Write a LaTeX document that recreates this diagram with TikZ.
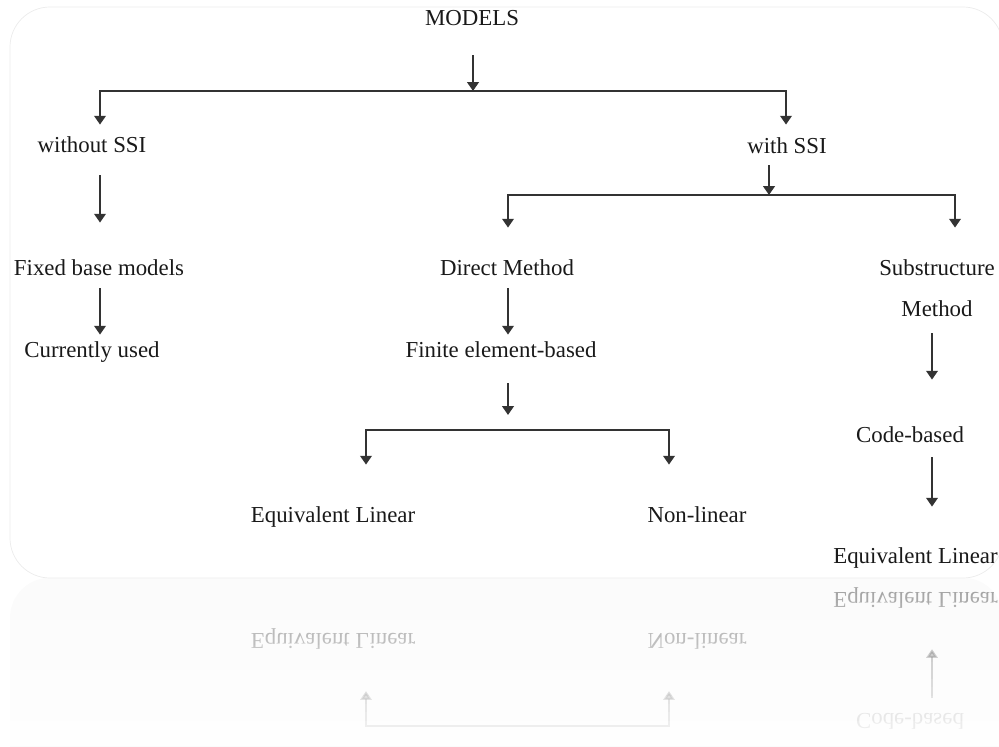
\documentclass[tikz,border=0pt]{standalone}
\usepackage{fontspec}
\setmainfont{Liberation Serif}
\usetikzlibrary{arrows.meta,positioning}

% lower end of the tree, drawn on the card and again as its mirror image
\newcommand{\lowertree}{%
    \node[lbl] (eqlin) at (333,517) {Equivalent Linear};
    \node[lbl] (nonlin) at (697,517) {Non-linear};
    \node[lbl] (code) at (910,437) {Code-based};
    \node[lbl, anchor=west] (eqlin2) at (833,558) {Equivalent Linear};
    \coordinate (b3l) at (366,430);
    \coordinate (b3r) at (669,430);
    \coordinate (subx) at (932,0);
    \draw[fork, shorten <=0.83cm, shorten >=0.83cm] (eqlin.north -| b3l) -- (b3l) -- (b3r) -- (nonlin.north -| b3r);
    \draw[arrow, shorten <=0.19cm, shorten >=0.81cm] (code.south -| subx) -- (eqlin2.north -| subx);
}

\begin{document}
\begin{tikzpicture}[
    x=0.02cm, y=-0.02cm,
    lbl/.style={font=\fontsize{13}{15}\selectfont, text=black!90, text height=9pt, text depth=3pt, inner sep=0pt},
    arrow/.style={-{Triangle[length=5pt,width=6.5pt]}, line width=1.4pt, draw=black!80},
    fork/.style={{Triangle[length=5pt,width=6.5pt]}-{Triangle[length=5pt,width=6.5pt]}, line width=1.4pt, draw=black!80},
    card/.style={rounded corners=0.8cm}
]
    \useasboundingbox (0,0) rectangle (999,746);

    \begin{scope}
        \clip[card] (10,7) rectangle (1003,578);
        \lowertree

        % Nodes
        \node[lbl] (models) at (472,20) {MODELS};
        \node[lbl] (woSSI) at (92,147) {without SSI};
        \node[lbl] (wSSI) at (787,148) {with SSI};
        \node[lbl] (fixed) at (99,270) {Fixed base models};
        \node[lbl] (current) at (92,352) {Currently used};
        \node[lbl] (direct) at (507,270) {Direct Method};
        \node[lbl] (fem) at (501,352) {Finite element-based};
        \node[lbl] (subs) at (937,270) {Substructure};
        \node[lbl, below=0.38cm of subs] (submeth) {Method};

        % Branch points
        \coordinate (fork1) at (473,91);
        \coordinate (b1l) at (100,91);
        \coordinate (b1r) at (786,91);
        \coordinate (fork2) at (769,195);
        \coordinate (b2l) at (508,195);
        \coordinate (b2r) at (955,195);
        \coordinate (fork3) at (508,430);

        % Arrows
        \draw[arrow, shorten <=0.49cm] (models.south -| fork1) -- (fork1);
        \draw[fork, shorten <=0.23cm, shorten >=0.25cm] (woSSI.north -| b1l) -- (b1l) -- (b1r) -- (wSSI.north -| b1r);
        \draw[arrow, shorten <=0.35cm, shorten >=0.73cm] (woSSI.south -| b1l) -- (fixed.north -| b1l);
        \draw[arrow, shorten <=0.15cm, shorten >=0.13cm] (fixed.south -| b1l) -- (current.north -| b1l);
        \draw[arrow, shorten <=0.13cm] (wSSI.south -| fork2) -- (fork2);
        \draw[fork, shorten <=0.63cm, shorten >=0.63cm] (direct.north -| b2l) -- (b2l) -- (b2r) -- (subs.north -| b2r);
        \draw[arrow, shorten <=0.15cm, shorten >=0.13cm] (direct.south -| b2l) -- (fem.north -| b2l);
        \draw[arrow, shorten <=0.41cm, shorten >=0.3cm] (fem.south -| fork3) -- (fork3);
        \draw[arrow, shorten <=0.23cm, shorten >=0.93cm] (submeth.south -| subx) -- (code.north -| subx);
    \end{scope}
    \draw[card, black!8] (10,7) rectangle (1003,578);

    % mirror image under the card
    \begin{scope}
        \clip (0,578) rectangle (999,746);
        \begin{scope}[yshift=-23.12cm, yscale=-1, transform shape, opacity=0.4]
            \clip[card] (10,7) rectangle (1003,578);
            \fill[black!4] (10,7) rectangle (1003,578);
            \lowertree
        \end{scope}
        \foreach \i [evaluate=\i as \op using \i/21] in {0,...,19}
            \fill[white, opacity=\op] (0,{578+8.4*\i}) rectangle (999,{578+8.4*(\i+1)});
    \end{scope}
\end{tikzpicture}
\end{document}
